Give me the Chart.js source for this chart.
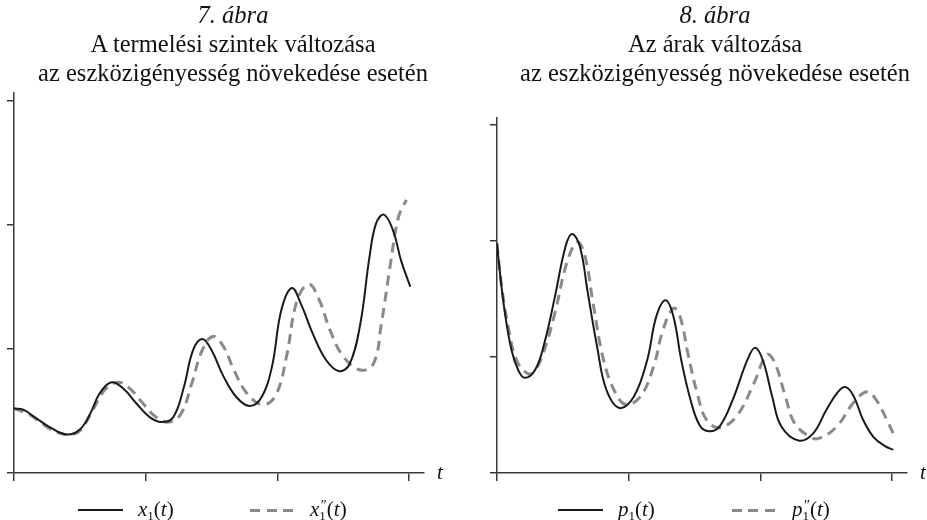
<!DOCTYPE html>
<html lang="hu">
<head>
<meta charset="utf-8">
<title>7-8. ábra</title>
<script src="https://cdn.jsdelivr.net/npm/chart.js@4.4.1/dist/chart.umd.min.js"></script>
<style>
  html, body { margin: 0; padding: 0; background: #fff; }
  #wrap { position: relative; width: 927px; height: 520px; overflow: hidden; }
  canvas { position: absolute; top: 0; }
  .title {
    position: absolute; top: 0; width: 466px; text-align: center;
    font-family: 'Liberation Serif', 'Times New Roman', serif;
    font-size: 24.5px; line-height: 29px; color: #111;
  }
  .title .num { font-style: italic; }
  .legend-item {
    position: absolute; top: 498px; height: 24px;
    display: flex; align-items: center; white-space: nowrap;
    font-family: 'Liberation Serif', 'Times New Roman', serif;
    font-size: 21px; color: #111;
  }
  .legend-item .sample { display: inline-block; width: 45px; margin-right: 15px; }
  .legend-item .solid { height: 2px; background: #1a1a1a; }
  .legend-item .dashed {
    height: 3px;
    background: repeating-linear-gradient(to right, #8a8a8a 0 10px, transparent 10px 16.5px);
  }
  .legend-item sub { font-size: 0.62em; vertical-align: -0.3em; }
  .legend-item sup { font-size: 0.7em; vertical-align: 0.35em; margin-left: -0.35em; }
</style>
</head>
<body>
<div id="wrap">
  <canvas id="chartLeft" width="463" height="520" style="left:0"></canvas>
  <canvas id="chartRight" width="464" height="520" style="left:463px"></canvas>

  <div class="title" style="left:0">
    <div class="num">7. ábra</div>
    <div>A termelési szintek változása</div>
    <div>az eszközigényesség növekedése esetén</div>
  </div>
  <div class="title" style="left:482px">
    <div class="num">8. ábra</div>
    <div>Az árak változása</div>
    <div>az eszközigényesség növekedése esetén</div>
  </div>

  <div class="legend-item" style="left:78px"><span class="sample solid"></span><span><i>x</i><sub>1</sub>(<i>t</i>)</span></div>
  <div class="legend-item" style="left:250px"><span class="sample dashed"></span><span><i>x</i><sub>1</sub><sup>″</sup>(<i>t</i>)</span></div>
  <div class="legend-item" style="left:558px"><span class="sample solid"></span><span><i>p</i><sub>1</sub>(<i>t</i>)</span></div>
  <div class="legend-item" style="left:732px"><span class="sample dashed"></span><span><i>p</i><sub>1</sub><sup>″</sup>(<i>t</i>)</span></div>
</div>

<script>
// --- Data (sampled along the curves of the two figures) ---

// 7. ábra: x1(t), solid
const x1T      = [0.00, 0.07, 0.17, 0.27, 0.40, 0.50, 0.58, 0.65, 0.74, 0.83, 0.93, 1.03, 1.12, 1.21, 1.29, 1.36, 1.43, 1.50, 1.59, 1.69, 1.79, 1.88, 1.96, 2.03, 2.11, 2.18, 2.27, 2.37, 2.47, 2.55, 2.63, 2.70, 2.75, 2.81, 2.88, 2.94, 3.01];
const x1Values = [0.52, 0.51, 0.44, 0.37, 0.31, 0.35, 0.48, 0.64, 0.73, 0.68, 0.56, 0.45, 0.41, 0.45, 0.69, 0.99, 1.08, 0.99, 0.78, 0.61, 0.54, 0.61, 0.86, 1.31, 1.49, 1.36, 1.12, 0.91, 0.82, 0.88, 1.20, 1.74, 2.01, 2.08, 1.95, 1.71, 1.50];

// 7. ábra: x1''(t), dashed
const x1bT      = [0.00, 0.12, 0.25, 0.35, 0.44, 0.51, 0.60, 0.69, 0.79, 0.88, 0.98, 1.08, 1.18, 1.27, 1.35, 1.43, 1.51, 1.59, 1.67, 1.77, 1.89, 1.99, 2.07, 2.15, 2.24, 2.32, 2.40, 2.50, 2.63, 2.73, 2.79, 2.86, 2.92, 2.98];
const x1bValues = [0.52, 0.47, 0.37, 0.32, 0.31, 0.35, 0.51, 0.67, 0.73, 0.68, 0.56, 0.45, 0.41, 0.48, 0.72, 0.99, 1.10, 1.02, 0.83, 0.64, 0.55, 0.63, 0.94, 1.39, 1.52, 1.39, 1.15, 0.94, 0.83, 0.88, 1.20, 1.69, 2.06, 2.20];

// 8. ábra: p1(t), solid
const p1T      = [0.00, 0.02, 0.06, 0.11, 0.16, 0.21, 0.29, 0.36, 0.44, 0.52, 0.57, 0.63, 0.69, 0.76, 0.83, 0.93, 1.04, 1.14, 1.21, 1.28, 1.34, 1.40, 1.47, 1.54, 1.61, 1.69, 1.79, 1.90, 1.96, 2.02, 2.09, 2.16, 2.29, 2.40, 2.50, 2.59, 2.65, 2.71, 2.78, 2.86, 2.95, 3.01];
const p1Values = [1.98, 1.75, 1.38, 1.06, 0.89, 0.82, 0.89, 1.12, 1.52, 1.95, 2.06, 1.95, 1.55, 1.09, 0.72, 0.56, 0.66, 0.97, 1.35, 1.49, 1.35, 0.97, 0.63, 0.41, 0.36, 0.40, 0.63, 0.97, 1.08, 0.97, 0.66, 0.40, 0.28, 0.34, 0.54, 0.70, 0.74, 0.66, 0.46, 0.31, 0.23, 0.20];

// 8. ábra: p1''(t), dashed
const p1bT      = [0.00, 0.035, 0.09, 0.15, 0.23, 0.28, 0.35, 0.44, 0.53, 0.61, 0.67, 0.73, 0.81, 0.90, 0.98, 1.09, 1.19, 1.26, 1.34, 1.39, 1.45, 1.52, 1.59, 1.69, 1.82, 1.95, 2.05, 2.11, 2.19, 2.26, 2.38, 2.45, 2.58, 2.71, 2.81, 2.88, 2.96, 3.01];
const p1bValues = [1.98, 1.61,  1.23, 0.97, 0.86, 0.87, 1.03, 1.38, 1.81, 1.99, 1.86, 1.46, 0.97, 0.69, 0.59, 0.66, 0.92, 1.23, 1.42, 1.35, 1.03, 0.69, 0.46, 0.39, 0.49, 0.77, 1.02, 0.95, 0.66, 0.43, 0.31, 0.30, 0.40, 0.61, 0.70, 0.63, 0.46, 0.34];

// Axis ticks (unlabelled in the original)
const tTicks = [0, 1, 2, 3];
const yTicks = [0, 1, 2, 3];

// --- Helpers ---

const AXIS_COLOR = '#3a3a3a';
const SOLID_COLOR = '#1a1a1a';
const DASH_COLOR = '#8a8a8a';

function toPoints(ts, vals) {
    return ts.map((t, i) => ({ x: t, y: vals[i] }));
}

// "t" label at the end of the horizontal axis
const axisEndLabel = {
    id: 'axisEndLabel',
    afterDraw(chart) {
        const xs = chart.scales.x;
        const ctx = chart.ctx;
        ctx.save();
        ctx.font = "italic 21px 'Liberation Serif', serif";
        ctx.fillStyle = '#111';
        ctx.textAlign = 'center';
        ctx.textBaseline = 'alphabetic';
        ctx.fillText('t', xs.right + 16, xs.top + 6);
        ctx.restore();
    }
};

function buildChart(canvasId, solidLabel, solidData, dashLabel, dashData, padding) {
    const axisTicks = (values) => (scale) => {
        scale.ticks = values.map(v => ({ value: v }));
    };

    return new Chart(document.getElementById(canvasId), {
        type: 'line',
        data: {
            datasets: [
                {
                    label: solidLabel,
                    data: solidData,
                    borderColor: SOLID_COLOR,
                    borderWidth: 2,
                    pointRadius: 0,
                    tension: 0.4,
                    fill: false
                },
                {
                    label: dashLabel,
                    data: dashData,
                    borderColor: DASH_COLOR,
                    borderWidth: 3,
                    borderDash: [10, 6.5],
                    pointRadius: 0,
                    tension: 0.4,
                    fill: false
                }
            ]
        },
        options: {
            responsive: false,
            animation: false,
            layout: { padding },
            plugins: {
                legend: { display: false },
                title: { display: false },
                tooltip: { enabled: false }
            },
            scales: {
                x: {
                    type: 'linear',
                    min: 0,
                    max: 3.114,
                    afterBuildTicks: axisTicks(tTicks),
                    border: { display: true, color: AXIS_COLOR, width: 1.5 },
                    grid: { drawOnChartArea: false, drawTicks: true, tickLength: 8, color: AXIS_COLOR, lineWidth: 1.5 },
                    ticks: { display: false }
                },
                y: {
                    type: 'linear',
                    min: 0,
                    max: 3.06,
                    afterBuildTicks: axisTicks(yTicks),
                    border: { display: true, color: AXIS_COLOR, width: 1.5 },
                    grid: { drawOnChartArea: false, drawTicks: true, tickLength: 7, color: AXIS_COLOR, lineWidth: 1.5 },
                    ticks: { display: false }
                }
            }
        },
        plugins: [axisEndLabel]
    });
}

// --- Charts ---

buildChart('chartLeft',
    "x1(t)", toPoints(x1T, x1Values),
    "x1''(t)", toPoints(x1bT, x1bValues),
    { left: 7, right: 39, top: 93, bottom: 39 });

buildChart('chartRight',
    "p1(t)", toPoints(p1T, p1Values),
    "p1''(t)", toPoints(p1bT, p1bValues),
    { left: 27, right: 20, top: 118, bottom: 39 });
</script>
</body>
</html>
